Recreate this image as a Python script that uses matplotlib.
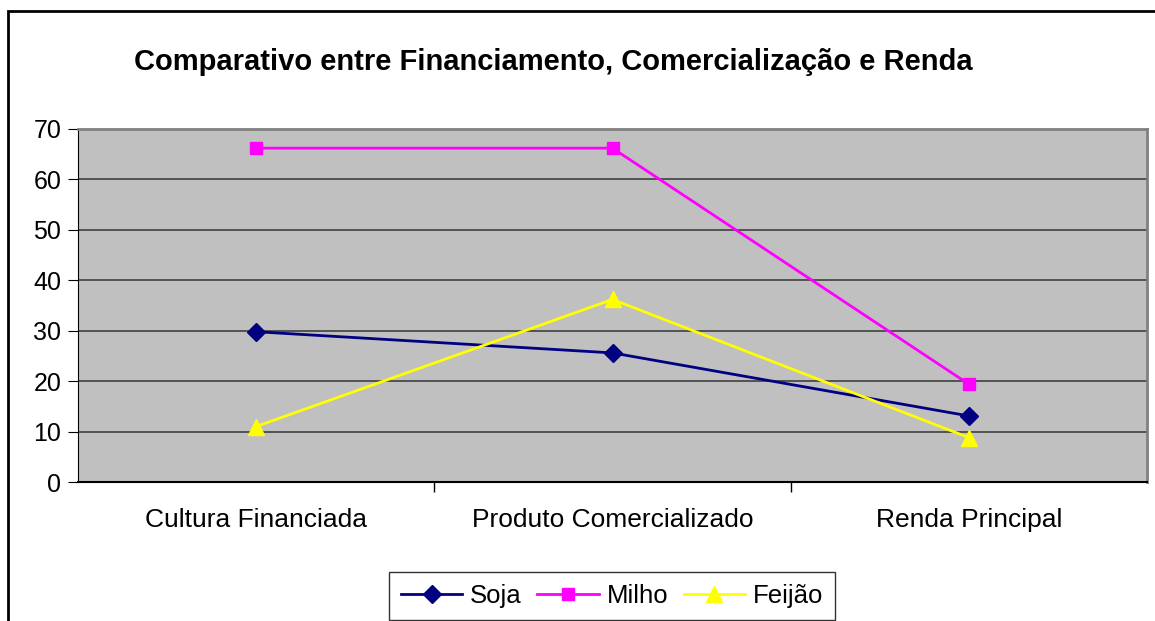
import numpy as np
import matplotlib.pyplot as plt
from matplotlib.patches import Rectangle

categorias = ['Cultura Financiada', 'Produto Comercializado', 'Renda Principal']
soja = [29.8, 25.6, 13.1]
milho = [66.2, 66.2, 19.4]
feijao = [11.0, 36.2, 8.8]
yticks = [0, 10, 20, 30, 40, 50, 60, 70]

plt.rcParams['font.family'] = ['Liberation Sans', 'DejaVu Sans']

fig = plt.figure(figsize=(11.55, 6.21), dpi=100)
fig.patches.append(Rectangle((8 / 1155, -0.1), 1.2, (621 - 11) / 621 + 0.1,
                             transform=fig.transFigure, fill=False,
                             edgecolor='black', linewidth=2))

ax = fig.add_axes([78 / 1155, 1 - 482 / 621, (1147 - 78) / 1155, (482 - 129) / 621])
ax.set_facecolor('#C0C0C0')

x = np.arange(len(categorias))
ax.plot(x, soja, color='#000080', marker='D', markersize=9, linewidth=2, label='Soja')
ax.plot(x, milho, color='#FF00FF', marker='s', markersize=9, linewidth=2, label='Milho')
ax.plot(x, feijao, color='#FFFF00', marker='^', markersize=11, linewidth=2, label='Feijão')

ax.set_xlim(-0.5, 2.5)
ax.set_ylim(0, 70)
ax.set_yticks(yticks)
ax.set_xticks(x)
ax.set_xticklabels(categorias)
ax.set_xticks([0.5, 1.5], minor=True)
ax.tick_params(axis='x', which='major', length=0, pad=19, labelsize=19)
ax.tick_params(axis='x', which='minor', length=7, direction='out', width=1)
ax.tick_params(axis='y', length=7, direction='out', labelsize=18, pad=5)
ax.grid(axis='y', color='#404040', linewidth=1.2)
ax.set_axisbelow(True)

ax.spines['left'].set_color('black')
ax.spines['bottom'].set_color('black')
ax.spines['bottom'].set_linewidth(1.5)
ax.spines['top'].set_color('#808080')
ax.spines['top'].set_linewidth(2)
ax.spines['right'].set_color('#808080')
ax.spines['right'].set_linewidth(2)

fig.text(553 / 1155, 1 - 62 / 621, 'Comparativo entre Financiamento, Comercialização e Renda',
         ha='center', va='center', fontsize=21, fontweight='bold')

leg = fig.legend(loc='center', bbox_to_anchor=(612 / 1155, 1 - 596 / 621), ncol=3,
                 fontsize=18.5, frameon=True, fancybox=False, edgecolor='black',
                 handlelength=2.4, handletextpad=0.3, columnspacing=0.6,
                 borderpad=0.45)
leg.get_frame().set_linewidth(1)

fig.savefig('out.png', dpi=100)
